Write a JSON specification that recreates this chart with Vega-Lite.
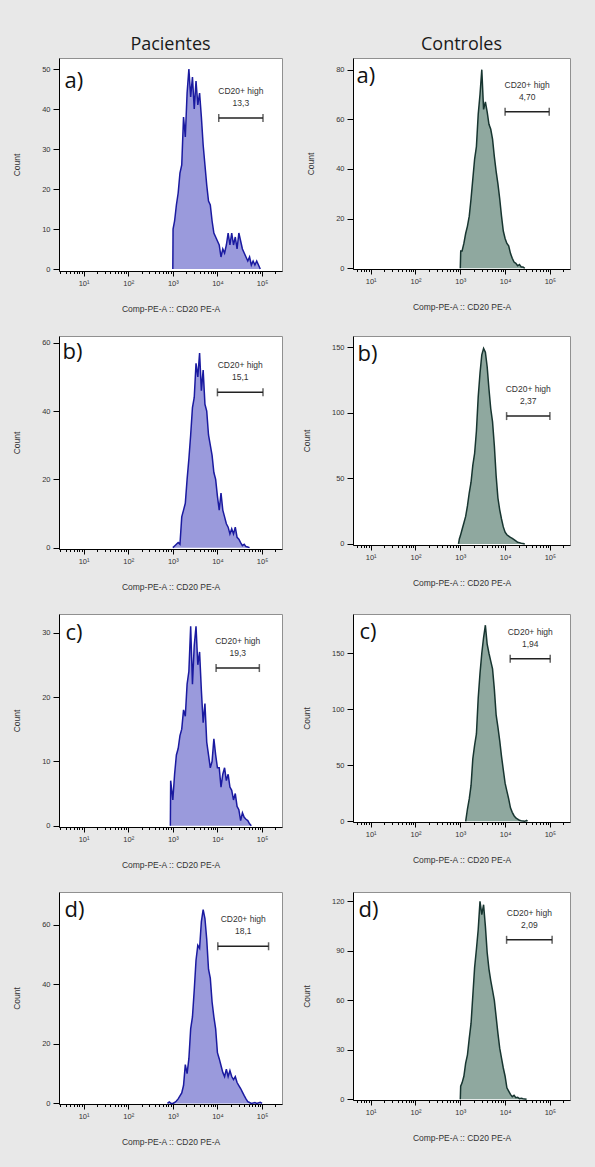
{
"$schema":"https://vega.github.io/schema/vega-lite/v6.json",
"background":"#e8e8e8",
"padding":{"left":12,"top":35,"right":26,"bottom":25},
"columns":2,
"spacing":{"row":65,"column":71},
"bounds":"flush",
"config":{
 "view":{"stroke":"#909090","strokeWidth":1,"fill":"white"},
 "axis":{"labelFont":"Liberation Sans","labelFontSize":7.5,"labelColor":"#333","titleFont":"Liberation Sans","titleFontSize":8.5,"titleFontWeight":"normal","titleColor":"#333","domainColor":"black","tickColor":"black","grid":false,"domainWidth":1,"tickWidth":1,"labelOverlap":false,"labelFlush":false},
 "axisX":{"labelPadding":3,"titlePadding":18},
 "axisY":{"labelPadding":3,"titlePadding":20},
 "text":{"font":"Liberation Sans","fontSize":8.5,"color":"#333"}
},
"datasets":{
"LA":[{"x":1000,"n":0},{"x":1012,"n":10},{"x":1096,"n":12},{"x":1202,"n":16},{"x":1318,"n":19},{"x":1445,"n":24},{"x":1585,"n":26},{"x":1738,"n":38},{"x":1905,"n":33},{"x":2089,"n":44},{"x":2291,"n":50},{"x":2512,"n":43},{"x":2754,"n":48},{"x":3020,"n":40},{"x":3311,"n":47},{"x":3631,"n":41},{"x":3981,"n":44},{"x":4365,"n":38},{"x":4786,"n":31},{"x":5248,"n":26},{"x":5754,"n":21},{"x":6310,"n":17},{"x":6918,"n":16},{"x":7586,"n":12},{"x":8318,"n":9},{"x":9120,"n":8},{"x":10000,"n":7},{"x":10965,"n":6},{"x":12023,"n":3},{"x":13183,"n":5},{"x":14454,"n":4},{"x":15849,"n":6},{"x":17378,"n":9},{"x":19055,"n":6},{"x":20893,"n":9},{"x":22909,"n":6},{"x":25119,"n":8},{"x":27542,"n":5},{"x":30200,"n":9},{"x":33113,"n":7},{"x":36308,"n":5},{"x":39811,"n":4},{"x":43652,"n":3},{"x":47863,"n":2},{"x":52481,"n":3},{"x":57544,"n":1},{"x":63096,"n":2},{"x":69183,"n":1},{"x":75858,"n":2},{"x":83176,"n":1},{"x":91201,"n":0}],
"RA":[{"x":1000,"n":0},{"x":1023,"n":7},{"x":1096,"n":7},{"x":1202,"n":10},{"x":1318,"n":14},{"x":1445,"n":17},{"x":1585,"n":21},{"x":1738,"n":28},{"x":1905,"n":36},{"x":2089,"n":44},{"x":2291,"n":49},{"x":2512,"n":62},{"x":2754,"n":70},{"x":3020,"n":80},{"x":3311,"n":64},{"x":3631,"n":67},{"x":3981,"n":63},{"x":4365,"n":58},{"x":4786,"n":56},{"x":5248,"n":52},{"x":5754,"n":45},{"x":6310,"n":39},{"x":6918,"n":34},{"x":7586,"n":28},{"x":8318,"n":21},{"x":9120,"n":15},{"x":10000,"n":12},{"x":10965,"n":10},{"x":12023,"n":9},{"x":13183,"n":6},{"x":14454,"n":4},{"x":15849,"n":2.5},{"x":17378,"n":2},{"x":19055,"n":1},{"x":20893,"n":1.5},{"x":22909,"n":0.5},{"x":25119,"n":0.5},{"x":27542,"n":0}],
"LB":[{"x":1000,"n":0},{"x":1096,"n":0.5},{"x":1202,"n":1},{"x":1318,"n":1.5},{"x":1445,"n":1},{"x":1585,"n":9},{"x":1738,"n":11},{"x":1905,"n":13},{"x":2089,"n":20},{"x":2291,"n":26},{"x":2512,"n":33},{"x":2754,"n":41},{"x":3020,"n":44},{"x":3311,"n":54},{"x":3631,"n":50},{"x":3981,"n":57},{"x":4365,"n":46},{"x":4786,"n":52},{"x":5248,"n":42},{"x":5754,"n":40},{"x":6310,"n":33},{"x":6918,"n":30},{"x":7586,"n":27},{"x":8318,"n":22},{"x":9120,"n":20},{"x":10000,"n":15},{"x":10965,"n":11},{"x":12023,"n":16},{"x":13183,"n":11},{"x":14454,"n":9},{"x":15849,"n":7},{"x":17378,"n":6},{"x":19055,"n":4},{"x":20893,"n":5.5},{"x":22909,"n":4},{"x":25119,"n":6},{"x":27542,"n":3},{"x":30200,"n":2.5},{"x":33113,"n":1.5},{"x":36308,"n":0.6},{"x":39811,"n":1},{"x":43652,"n":0.3},{"x":47863,"n":0.2},{"x":52481,"n":0}],
"RB":[{"x":912,"n":0},{"x":955,"n":4},{"x":1000,"n":6},{"x":1096,"n":11},{"x":1202,"n":16},{"x":1318,"n":21},{"x":1445,"n":29},{"x":1585,"n":39},{"x":1738,"n":47},{"x":1905,"n":60},{"x":2089,"n":69},{"x":2291,"n":86},{"x":2512,"n":112},{"x":2754,"n":130},{"x":3020,"n":144},{"x":3311,"n":149},{"x":3631,"n":146},{"x":3981,"n":135},{"x":4365,"n":118},{"x":4786,"n":103},{"x":5248,"n":93},{"x":5754,"n":75},{"x":6310,"n":52},{"x":6918,"n":35},{"x":7586,"n":26},{"x":8318,"n":19},{"x":9120,"n":13},{"x":10000,"n":9},{"x":10965,"n":7},{"x":12023,"n":6},{"x":13183,"n":5},{"x":14454,"n":4.3},{"x":15849,"n":3.3},{"x":17378,"n":2.3},{"x":19055,"n":1.3},{"x":20893,"n":1},{"x":22909,"n":0.5},{"x":25119,"n":0.3},{"x":27542,"n":0}],
"LC":[{"x":880,"n":0},{"x":895,"n":7},{"x":1000,"n":4},{"x":1096,"n":8},{"x":1202,"n":11},{"x":1318,"n":12},{"x":1445,"n":14},{"x":1585,"n":15},{"x":1738,"n":18},{"x":1905,"n":17},{"x":2089,"n":22},{"x":2291,"n":24},{"x":2512,"n":31},{"x":2754,"n":22},{"x":3020,"n":28},{"x":3311,"n":31},{"x":3631,"n":25},{"x":3981,"n":27},{"x":4365,"n":21},{"x":4786,"n":16},{"x":5248,"n":19},{"x":5754,"n":13},{"x":6310,"n":11},{"x":6918,"n":9},{"x":7586,"n":10},{"x":8318,"n":13.5},{"x":9120,"n":11},{"x":10000,"n":9},{"x":10965,"n":9},{"x":12023,"n":6},{"x":13183,"n":8},{"x":14454,"n":9},{"x":15849,"n":7},{"x":17378,"n":8},{"x":19055,"n":6},{"x":20893,"n":5.5},{"x":22909,"n":4},{"x":25119,"n":5},{"x":27542,"n":3},{"x":30200,"n":2.5},{"x":33113,"n":0.8},{"x":36308,"n":2},{"x":39811,"n":1.3},{"x":43652,"n":1},{"x":47863,"n":0.8},{"x":52481,"n":0.3},{"x":57544,"n":0}],
"RC":[{"x":1318,"n":0},{"x":1445,"n":11},{"x":1585,"n":20},{"x":1738,"n":32},{"x":1905,"n":56},{"x":2089,"n":68},{"x":2291,"n":78},{"x":2512,"n":110},{"x":2754,"n":132},{"x":3020,"n":150},{"x":3311,"n":164},{"x":3631,"n":175},{"x":3981,"n":158},{"x":4365,"n":150},{"x":4786,"n":143},{"x":5248,"n":136},{"x":5754,"n":118},{"x":6310,"n":95},{"x":6918,"n":84},{"x":7586,"n":72},{"x":8318,"n":58},{"x":9120,"n":46},{"x":10000,"n":34},{"x":10965,"n":27},{"x":12023,"n":20},{"x":13183,"n":12},{"x":14454,"n":8},{"x":15849,"n":5},{"x":17378,"n":3},{"x":19055,"n":2},{"x":20893,"n":1},{"x":22909,"n":0.5},{"x":25119,"n":0.3},{"x":27542,"n":0},{"x":30200,"n":0.8},{"x":31623,"n":0}],
"LD":[{"x":759,"n":0},{"x":832,"n":0.5},{"x":912,"n":0},{"x":1000,"n":0},{"x":1096,"n":0.3},{"x":1202,"n":0.8},{"x":1318,"n":1.5},{"x":1445,"n":2.5},{"x":1585,"n":3.5},{"x":1738,"n":6},{"x":1905,"n":13},{"x":2089,"n":10},{"x":2291,"n":15},{"x":2512,"n":25},{"x":2754,"n":29},{"x":3020,"n":38},{"x":3311,"n":48},{"x":3631,"n":53},{"x":3981,"n":52},{"x":4365,"n":61},{"x":4786,"n":65},{"x":5248,"n":62},{"x":5754,"n":55},{"x":6310,"n":45},{"x":6918,"n":42},{"x":7586,"n":34},{"x":8318,"n":29},{"x":9120,"n":25},{"x":10000,"n":17},{"x":10965,"n":15},{"x":12023,"n":12.7},{"x":13183,"n":10.4},{"x":14454,"n":9},{"x":15849,"n":11.5},{"x":17378,"n":9},{"x":19055,"n":11},{"x":20893,"n":9},{"x":22909,"n":8},{"x":25119,"n":9},{"x":27542,"n":7},{"x":30200,"n":6},{"x":33113,"n":5},{"x":36308,"n":3.8},{"x":39811,"n":2.6},{"x":43652,"n":1.5},{"x":47863,"n":0.6},{"x":52481,"n":0.3},{"x":57544,"n":0},{"x":69183,"n":0.3},{"x":75858,"n":0},{"x":91201,"n":0.4},{"x":100000,"n":0}],
"RD":[{"x":1000,"n":0},{"x":1020,"n":8},{"x":1096,"n":10},{"x":1202,"n":14},{"x":1318,"n":22},{"x":1445,"n":27},{"x":1585,"n":37},{"x":1738,"n":46},{"x":1905,"n":63},{"x":2089,"n":80},{"x":2291,"n":91},{"x":2512,"n":103},{"x":2754,"n":120},{"x":3020,"n":112},{"x":3311,"n":118},{"x":3631,"n":105},{"x":3981,"n":89},{"x":4365,"n":79},{"x":4786,"n":72},{"x":5248,"n":66},{"x":5754,"n":60},{"x":6310,"n":50},{"x":6918,"n":40},{"x":7586,"n":31},{"x":8318,"n":25},{"x":9120,"n":19},{"x":10000,"n":14},{"x":10965,"n":7},{"x":12023,"n":5},{"x":13183,"n":3},{"x":14454,"n":1.6},{"x":15849,"n":2.4},{"x":17378,"n":1},{"x":19055,"n":1.2},{"x":20893,"n":0.4},{"x":22909,"n":0.6},{"x":25119,"n":0.3},{"x":27542,"n":0.2},{"x":30200,"n":0}]
},
"concat":[
{"width":223,"height":213,
 "title":{"text":"Pacientes","font":"Open Sans","fontSize":18,"fontWeight":"normal","color":"#1a1a1a","anchor":"middle","baseline":"alphabetic","offset":-10},
 "layer":[
  {"data":{"name":"LA"},"mark":{"type":"area","color":"#9a9adc","opacity":1,"line":{"color":"#1a1aa0","strokeWidth":1.5}},
   "encoding":{"x":{"field":"x","type":"quantitative","scale":{"type":"log","domain":[2.81,280000],"nice":false},"axis":{"title":"Comp-PE-A :: CD20 PE-A","labelOverlap":false,"values":[3,4,5,6,7,8,9,10,20,30,40,50,60,70,80,90,100,200,300,400,500,600,700,800,900,1000,2000,3000,4000,5000,6000,7000,8000,9000,10000,20000,30000,40000,50000,60000,70000,80000,90000,100000,200000],"labelExpr":"datum.value == 10 ? '10¹' : datum.value == 100 ? '10²' : datum.value == 1000 ? '10³' : datum.value == 10000 ? '10⁴' : datum.value == 100000 ? '10⁵' : ''","tickSize":{"condition":{"test":"indexof([10,100,1000,10000,100000], datum.value) >= 0","value":5},"value":2.5}}},
    "y":{"field":"n","type":"quantitative","scale":{"domain":[-0.5,52.75],"nice":false,"zero":false},"axis":{"title":"Count","labelOverlap":false,"values":[0,2.5,5,7.5,10,12.5,15,17.5,20,22.5,25,27.5,30,32.5,35,37.5,40,42.5,45,47.5,50,52.5],"labelExpr":"datum.value % 10 == 0 ? datum.label : ''","tickSize":{"condition":{"test":"datum.value % 10 == 0","value":6},"value":3}}}}},
  {"data":{"values":[{"lo":10700,"hi":105000,"n":37.75,"pct":"13,3"}]},
   "layer":[
    {"mark":{"type":"rule","color":"#222","strokeWidth":1.5},"encoding":{"x":{"field":"lo","type":"quantitative","scale":{"type":"log","domain":[2.81,280000],"nice":false},"axis":{"orient":"top","title":"a)","labels":false,"ticks":false,"domain":false,"titleFont":"Open Sans","titleFontSize":22,"titleFontWeight":"normal","titleColor":"#111","titleAnchor":"start","titleAlign":"left","titleBaseline":"alphabetic","titleAngle":0,"titleX":5,"titleY":29}},"x2":{"field":"hi"},"y":{"field":"n","type":"quantitative","scale":{"domain":[-0.5,52.75],"nice":false,"zero":false}}}},
    {"mark":{"type":"tick","orient":"vertical","color":"#222","size":8,"thickness":1.5},"encoding":{"x":{"field":"lo","type":"quantitative","scale":{"type":"log","domain":[2.81,280000],"nice":false}},"y":{"field":"n","type":"quantitative","scale":{"domain":[-0.5,52.75],"nice":false,"zero":false}}}},
    {"mark":{"type":"tick","orient":"vertical","color":"#222","size":8,"thickness":1.5},"encoding":{"x":{"field":"hi","type":"quantitative","scale":{"type":"log","domain":[2.81,280000],"nice":false}},"y":{"field":"n","type":"quantitative","scale":{"domain":[-0.5,52.75],"nice":false,"zero":false}}}},
    {"transform":[{"calculate":"sqrt(datum.lo*datum.hi)","as":"mid"}],"mark":{"type":"text","dy":-27},"encoding":{"x":{"field":"mid","type":"quantitative","scale":{"type":"log","domain":[2.81,280000],"nice":false}},"y":{"field":"n","type":"quantitative","scale":{"domain":[-0.5,52.75],"nice":false,"zero":false}},"text":{"value":"CD20+ high"}}},
    {"transform":[{"calculate":"sqrt(datum.lo*datum.hi)","as":"mid"}],"mark":{"type":"text","dy":-15},"encoding":{"x":{"field":"mid","type":"quantitative","scale":{"type":"log","domain":[2.81,280000],"nice":false}},"y":{"field":"n","type":"quantitative","scale":{"domain":[-0.5,52.75],"nice":false,"zero":false}},"text":{"field":"pct"}}}
   ]}
 ],
 "resolve":{"axis":{"x":"independent"}}},
{"width":217,"height":211,
 "title":{"text":"Controles","font":"Open Sans","fontSize":18,"fontWeight":"normal","color":"#1a1a1a","anchor":"middle","baseline":"alphabetic","offset":-10},
 "layer":[
  {"data":{"name":"RA"},"mark":{"type":"area","color":"#8fa89f","opacity":1,"line":{"color":"#173530","strokeWidth":1.5}},
   "encoding":{"x":{"field":"x","type":"quantitative","scale":{"type":"log","domain":[4.03,281000],"nice":false},"axis":{"title":"Comp-PE-A :: CD20 PE-A","labelOverlap":false,"values":[5,6,7,8,9,10,20,30,40,50,60,70,80,90,100,200,300,400,500,600,700,800,900,1000,2000,3000,4000,5000,6000,7000,8000,9000,10000,20000,30000,40000,50000,60000,70000,80000,90000,100000,200000],"labelExpr":"datum.value == 10 ? '10¹' : datum.value == 100 ? '10²' : datum.value == 1000 ? '10³' : datum.value == 10000 ? '10⁴' : datum.value == 100000 ? '10⁵' : ''","tickSize":{"condition":{"test":"indexof([10,100,1000,10000,100000], datum.value) >= 0","value":5},"value":2.5}}},
    "y":{"field":"n","type":"quantitative","scale":{"domain":[-0.3,84.7],"nice":false,"zero":false},"axis":{"title":"Count","labelOverlap":false,"values":[0,5,10,15,20,25,30,35,40,45,50,55,60,65,70,75,80],"labelExpr":"datum.value % 20 == 0 ? datum.label : ''","tickSize":{"condition":{"test":"datum.value % 20 == 0","value":6},"value":3}}}}},
  {"data":{"values":[{"lo":10000,"hi":96600,"n":63,"pct":"4,70"}]},
   "layer":[
    {"mark":{"type":"rule","color":"#222","strokeWidth":1.5},"encoding":{"x":{"field":"lo","type":"quantitative","scale":{"type":"log","domain":[4.03,281000],"nice":false},"axis":{"orient":"top","title":"a)","labels":false,"ticks":false,"domain":false,"titleFont":"Open Sans","titleFontSize":22,"titleFontWeight":"normal","titleColor":"#111","titleAnchor":"start","titleAlign":"left","titleBaseline":"alphabetic","titleAngle":0,"titleX":3,"titleY":24}},"x2":{"field":"hi"},"y":{"field":"n","type":"quantitative","scale":{"domain":[-0.3,84.7],"nice":false,"zero":false}}}},
    {"mark":{"type":"tick","orient":"vertical","color":"#222","size":8,"thickness":1.5},"encoding":{"x":{"field":"lo","type":"quantitative","scale":{"type":"log","domain":[4.03,281000],"nice":false}},"y":{"field":"n","type":"quantitative","scale":{"domain":[-0.3,84.7],"nice":false,"zero":false}}}},
    {"mark":{"type":"tick","orient":"vertical","color":"#222","size":8,"thickness":1.5},"encoding":{"x":{"field":"hi","type":"quantitative","scale":{"type":"log","domain":[4.03,281000],"nice":false}},"y":{"field":"n","type":"quantitative","scale":{"domain":[-0.3,84.7],"nice":false,"zero":false}}}},
    {"transform":[{"calculate":"sqrt(datum.lo*datum.hi)","as":"mid"}],"mark":{"type":"text","dy":-27},"encoding":{"x":{"field":"mid","type":"quantitative","scale":{"type":"log","domain":[4.03,281000],"nice":false}},"y":{"field":"n","type":"quantitative","scale":{"domain":[-0.3,84.7],"nice":false,"zero":false}},"text":{"value":"CD20+ high"}}},
    {"transform":[{"calculate":"sqrt(datum.lo*datum.hi)","as":"mid"}],"mark":{"type":"text","dy":-15},"encoding":{"x":{"field":"mid","type":"quantitative","scale":{"type":"log","domain":[4.03,281000],"nice":false}},"y":{"field":"n","type":"quantitative","scale":{"domain":[-0.3,84.7],"nice":false,"zero":false}},"text":{"field":"pct"}}}
   ]}
 ],
 "resolve":{"axis":{"x":"independent"}}},
{"width":223,"height":213,
 "layer":[
  {"data":{"name":"LB"},"mark":{"type":"area","color":"#9a9adc","opacity":1,"line":{"color":"#1a1aa0","strokeWidth":1.5}},
   "encoding":{"x":{"field":"x","type":"quantitative","scale":{"type":"log","domain":[2.81,280000],"nice":false},"axis":{"title":"Comp-PE-A :: CD20 PE-A","labelOverlap":false,"values":[3,4,5,6,7,8,9,10,20,30,40,50,60,70,80,90,100,200,300,400,500,600,700,800,900,1000,2000,3000,4000,5000,6000,7000,8000,9000,10000,20000,30000,40000,50000,60000,70000,80000,90000,100000,200000],"labelExpr":"datum.value == 10 ? '10¹' : datum.value == 100 ? '10²' : datum.value == 1000 ? '10³' : datum.value == 10000 ? '10⁴' : datum.value == 100000 ? '10⁵' : ''","tickSize":{"condition":{"test":"indexof([10,100,1000,10000,100000], datum.value) >= 0","value":5},"value":2.5}}},
    "y":{"field":"n","type":"quantitative","scale":{"domain":[-0.4,62],"nice":false,"zero":false},"axis":{"title":"Count","labelOverlap":false,"values":[0,5,10,15,20,25,30,35,40,45,50,55,60],"labelExpr":"datum.value % 20 == 0 ? datum.label : ''","tickSize":{"condition":{"test":"datum.value % 20 == 0","value":6},"value":3}}}}},
  {"data":{"values":[{"lo":10000,"hi":105000,"n":45.5,"pct":"15,1"}]},
   "layer":[
    {"mark":{"type":"rule","color":"#222","strokeWidth":1.5},"encoding":{"x":{"field":"lo","type":"quantitative","scale":{"type":"log","domain":[2.81,280000],"nice":false},"axis":{"orient":"top","title":"b)","labels":false,"ticks":false,"domain":false,"titleFont":"Open Sans","titleFontSize":22,"titleFontWeight":"normal","titleColor":"#111","titleAnchor":"start","titleAlign":"left","titleBaseline":"alphabetic","titleAngle":0,"titleX":3,"titleY":22}},"x2":{"field":"hi"},"y":{"field":"n","type":"quantitative","scale":{"domain":[-0.4,62],"nice":false,"zero":false}}}},
    {"mark":{"type":"tick","orient":"vertical","color":"#222","size":8,"thickness":1.5},"encoding":{"x":{"field":"lo","type":"quantitative","scale":{"type":"log","domain":[2.81,280000],"nice":false}},"y":{"field":"n","type":"quantitative","scale":{"domain":[-0.4,62],"nice":false,"zero":false}}}},
    {"mark":{"type":"tick","orient":"vertical","color":"#222","size":8,"thickness":1.5},"encoding":{"x":{"field":"hi","type":"quantitative","scale":{"type":"log","domain":[2.81,280000],"nice":false}},"y":{"field":"n","type":"quantitative","scale":{"domain":[-0.4,62],"nice":false,"zero":false}}}},
    {"transform":[{"calculate":"sqrt(datum.lo*datum.hi)","as":"mid"}],"mark":{"type":"text","dy":-27},"encoding":{"x":{"field":"mid","type":"quantitative","scale":{"type":"log","domain":[2.81,280000],"nice":false}},"y":{"field":"n","type":"quantitative","scale":{"domain":[-0.4,62],"nice":false,"zero":false}},"text":{"value":"CD20+ high"}}},
    {"transform":[{"calculate":"sqrt(datum.lo*datum.hi)","as":"mid"}],"mark":{"type":"text","dy":-15},"encoding":{"x":{"field":"mid","type":"quantitative","scale":{"type":"log","domain":[2.81,280000],"nice":false}},"y":{"field":"n","type":"quantitative","scale":{"domain":[-0.4,62],"nice":false,"zero":false}},"text":{"field":"pct"}}}
   ]}
 ],
 "resolve":{"axis":{"x":"independent"}}},
{"width":217,"height":209,
 "layer":[
  {"data":{"name":"RB"},"mark":{"type":"area","color":"#8fa89f","opacity":1,"line":{"color":"#173530","strokeWidth":1.5}},
   "encoding":{"x":{"field":"x","type":"quantitative","scale":{"type":"log","domain":[4.03,281000],"nice":false},"axis":{"title":"Comp-PE-A :: CD20 PE-A","labelOverlap":false,"values":[5,6,7,8,9,10,20,30,40,50,60,70,80,90,100,200,300,400,500,600,700,800,900,1000,2000,3000,4000,5000,6000,7000,8000,9000,10000,20000,30000,40000,50000,60000,70000,80000,90000,100000,200000],"labelExpr":"datum.value == 10 ? '10¹' : datum.value == 100 ? '10²' : datum.value == 1000 ? '10³' : datum.value == 10000 ? '10⁴' : datum.value == 100000 ? '10⁵' : ''","tickSize":{"condition":{"test":"indexof([10,100,1000,10000,100000], datum.value) >= 0","value":5},"value":2.5}}},
    "y":{"field":"n","type":"quantitative","scale":{"domain":[-0.8,158.4],"nice":false,"zero":false},"axis":{"title":"Count","labelOverlap":false,"values":[0,12.5,25,37.5,50,62.5,75,87.5,100,112.5,125,137.5,150],"labelExpr":"datum.value % 50 == 0 ? datum.label : ''","tickSize":{"condition":{"test":"datum.value % 50 == 0","value":6},"value":3}}}}},
  {"data":{"values":[{"lo":10800,"hi":100000,"n":97.4,"pct":"2,37"}]},
   "layer":[
    {"mark":{"type":"rule","color":"#222","strokeWidth":1.5},"encoding":{"x":{"field":"lo","type":"quantitative","scale":{"type":"log","domain":[4.03,281000],"nice":false},"axis":{"orient":"top","title":"b)","labels":false,"ticks":false,"domain":false,"titleFont":"Open Sans","titleFontSize":22,"titleFontWeight":"normal","titleColor":"#111","titleAnchor":"start","titleAlign":"left","titleBaseline":"alphabetic","titleAngle":0,"titleX":4,"titleY":24}},"x2":{"field":"hi"},"y":{"field":"n","type":"quantitative","scale":{"domain":[-0.8,158.4],"nice":false,"zero":false}}}},
    {"mark":{"type":"tick","orient":"vertical","color":"#222","size":8,"thickness":1.5},"encoding":{"x":{"field":"lo","type":"quantitative","scale":{"type":"log","domain":[4.03,281000],"nice":false}},"y":{"field":"n","type":"quantitative","scale":{"domain":[-0.8,158.4],"nice":false,"zero":false}}}},
    {"mark":{"type":"tick","orient":"vertical","color":"#222","size":8,"thickness":1.5},"encoding":{"x":{"field":"hi","type":"quantitative","scale":{"type":"log","domain":[4.03,281000],"nice":false}},"y":{"field":"n","type":"quantitative","scale":{"domain":[-0.8,158.4],"nice":false,"zero":false}}}},
    {"transform":[{"calculate":"sqrt(datum.lo*datum.hi)","as":"mid"}],"mark":{"type":"text","dy":-27},"encoding":{"x":{"field":"mid","type":"quantitative","scale":{"type":"log","domain":[4.03,281000],"nice":false}},"y":{"field":"n","type":"quantitative","scale":{"domain":[-0.8,158.4],"nice":false,"zero":false}},"text":{"value":"CD20+ high"}}},
    {"transform":[{"calculate":"sqrt(datum.lo*datum.hi)","as":"mid"}],"mark":{"type":"text","dy":-15},"encoding":{"x":{"field":"mid","type":"quantitative","scale":{"type":"log","domain":[4.03,281000],"nice":false}},"y":{"field":"n","type":"quantitative","scale":{"domain":[-0.8,158.4],"nice":false,"zero":false}},"text":{"field":"pct"}}}
   ]}
 ],
 "resolve":{"axis":{"x":"independent"}}},
{"width":223,"height":213,
 "layer":[
  {"data":{"name":"LC"},"mark":{"type":"area","color":"#9a9adc","opacity":1,"line":{"color":"#1a1aa0","strokeWidth":1.5}},
   "encoding":{"x":{"field":"x","type":"quantitative","scale":{"type":"log","domain":[2.81,280000],"nice":false},"axis":{"title":"Comp-PE-A :: CD20 PE-A","labelOverlap":false,"values":[3,4,5,6,7,8,9,10,20,30,40,50,60,70,80,90,100,200,300,400,500,600,700,800,900,1000,2000,3000,4000,5000,6000,7000,8000,9000,10000,20000,30000,40000,50000,60000,70000,80000,90000,100000,200000],"labelExpr":"datum.value == 10 ? '10¹' : datum.value == 100 ? '10²' : datum.value == 1000 ? '10³' : datum.value == 10000 ? '10⁴' : datum.value == 100000 ? '10⁵' : ''","tickSize":{"condition":{"test":"indexof([10,100,1000,10000,100000], datum.value) >= 0","value":5},"value":2.5}}},
    "y":{"field":"n","type":"quantitative","scale":{"domain":[-0.2,32.9],"nice":false,"zero":false},"axis":{"title":"Count","labelOverlap":false,"values":[0,2.5,5,7.5,10,12.5,15,17.5,20,22.5,25,27.5,30,32.5],"labelExpr":"datum.value % 10 == 0 ? datum.label : ''","tickSize":{"condition":{"test":"datum.value % 10 == 0","value":6},"value":3}}}}},
  {"data":{"values":[{"lo":9330,"hi":87000,"n":24.5,"pct":"19,3"}]},
   "layer":[
    {"mark":{"type":"rule","color":"#222","strokeWidth":1.5},"encoding":{"x":{"field":"lo","type":"quantitative","scale":{"type":"log","domain":[2.81,280000],"nice":false},"axis":{"orient":"top","title":"c)","labels":false,"ticks":false,"domain":false,"titleFont":"Open Sans","titleFontSize":22,"titleFontWeight":"normal","titleColor":"#111","titleAnchor":"start","titleAlign":"left","titleBaseline":"alphabetic","titleAngle":0,"titleX":6,"titleY":25}},"x2":{"field":"hi"},"y":{"field":"n","type":"quantitative","scale":{"domain":[-0.2,32.9],"nice":false,"zero":false}}}},
    {"mark":{"type":"tick","orient":"vertical","color":"#222","size":8,"thickness":1.5},"encoding":{"x":{"field":"lo","type":"quantitative","scale":{"type":"log","domain":[2.81,280000],"nice":false}},"y":{"field":"n","type":"quantitative","scale":{"domain":[-0.2,32.9],"nice":false,"zero":false}}}},
    {"mark":{"type":"tick","orient":"vertical","color":"#222","size":8,"thickness":1.5},"encoding":{"x":{"field":"hi","type":"quantitative","scale":{"type":"log","domain":[2.81,280000],"nice":false}},"y":{"field":"n","type":"quantitative","scale":{"domain":[-0.2,32.9],"nice":false,"zero":false}}}},
    {"transform":[{"calculate":"sqrt(datum.lo*datum.hi)","as":"mid"}],"mark":{"type":"text","dy":-27},"encoding":{"x":{"field":"mid","type":"quantitative","scale":{"type":"log","domain":[2.81,280000],"nice":false}},"y":{"field":"n","type":"quantitative","scale":{"domain":[-0.2,32.9],"nice":false,"zero":false}},"text":{"value":"CD20+ high"}}},
    {"transform":[{"calculate":"sqrt(datum.lo*datum.hi)","as":"mid"}],"mark":{"type":"text","dy":-15},"encoding":{"x":{"field":"mid","type":"quantitative","scale":{"type":"log","domain":[2.81,280000],"nice":false}},"y":{"field":"n","type":"quantitative","scale":{"domain":[-0.2,32.9],"nice":false,"zero":false}},"text":{"field":"pct"}}}
   ]}
 ],
 "resolve":{"axis":{"x":"independent"}}},
{"width":217,"height":208,
 "layer":[
  {"data":{"name":"RC"},"mark":{"type":"area","color":"#8fa89f","opacity":1,"line":{"color":"#173530","strokeWidth":1.5}},
   "encoding":{"x":{"field":"x","type":"quantitative","scale":{"type":"log","domain":[4.03,281000],"nice":false},"axis":{"title":"Comp-PE-A :: CD20 PE-A","labelOverlap":false,"values":[5,6,7,8,9,10,20,30,40,50,60,70,80,90,100,200,300,400,500,600,700,800,900,1000,2000,3000,4000,5000,6000,7000,8000,9000,10000,20000,30000,40000,50000,60000,70000,80000,90000,100000,200000],"labelExpr":"datum.value == 10 ? '10¹' : datum.value == 100 ? '10²' : datum.value == 1000 ? '10³' : datum.value == 10000 ? '10⁴' : datum.value == 100000 ? '10⁵' : ''","tickSize":{"condition":{"test":"indexof([10,100,1000,10000,100000], datum.value) >= 0","value":5},"value":2.5}}},
    "y":{"field":"n","type":"quantitative","scale":{"domain":[-0.6,185],"nice":false,"zero":false},"axis":{"title":"Count","labelOverlap":false,"values":[0,12.5,25,37.5,50,62.5,75,87.5,100,112.5,125,137.5,150,162.5,175],"labelExpr":"datum.value % 50 == 0 ? datum.label : ''","tickSize":{"condition":{"test":"datum.value % 50 == 0","value":6},"value":3}}}}},
  {"data":{"values":[{"lo":13000,"hi":101600,"n":145,"pct":"1,94"}]},
   "layer":[
    {"mark":{"type":"rule","color":"#222","strokeWidth":1.5},"encoding":{"x":{"field":"lo","type":"quantitative","scale":{"type":"log","domain":[4.03,281000],"nice":false},"axis":{"orient":"top","title":"c)","labels":false,"ticks":false,"domain":false,"titleFont":"Open Sans","titleFontSize":22,"titleFontWeight":"normal","titleColor":"#111","titleAnchor":"start","titleAlign":"left","titleBaseline":"alphabetic","titleAngle":0,"titleX":6,"titleY":24}},"x2":{"field":"hi"},"y":{"field":"n","type":"quantitative","scale":{"domain":[-0.6,185],"nice":false,"zero":false}}}},
    {"mark":{"type":"tick","orient":"vertical","color":"#222","size":8,"thickness":1.5},"encoding":{"x":{"field":"lo","type":"quantitative","scale":{"type":"log","domain":[4.03,281000],"nice":false}},"y":{"field":"n","type":"quantitative","scale":{"domain":[-0.6,185],"nice":false,"zero":false}}}},
    {"mark":{"type":"tick","orient":"vertical","color":"#222","size":8,"thickness":1.5},"encoding":{"x":{"field":"hi","type":"quantitative","scale":{"type":"log","domain":[4.03,281000],"nice":false}},"y":{"field":"n","type":"quantitative","scale":{"domain":[-0.6,185],"nice":false,"zero":false}}}},
    {"transform":[{"calculate":"sqrt(datum.lo*datum.hi)","as":"mid"}],"mark":{"type":"text","dy":-27},"encoding":{"x":{"field":"mid","type":"quantitative","scale":{"type":"log","domain":[4.03,281000],"nice":false}},"y":{"field":"n","type":"quantitative","scale":{"domain":[-0.6,185],"nice":false,"zero":false}},"text":{"value":"CD20+ high"}}},
    {"transform":[{"calculate":"sqrt(datum.lo*datum.hi)","as":"mid"}],"mark":{"type":"text","dy":-15},"encoding":{"x":{"field":"mid","type":"quantitative","scale":{"type":"log","domain":[4.03,281000],"nice":false}},"y":{"field":"n","type":"quantitative","scale":{"domain":[-0.6,185],"nice":false,"zero":false}},"text":{"field":"pct"}}}
   ]}
 ],
 "resolve":{"axis":{"x":"independent"}}},
{"width":223,"height":212,
 "layer":[
  {"data":{"name":"LD"},"mark":{"type":"area","color":"#9a9adc","opacity":1,"line":{"color":"#1a1aa0","strokeWidth":1.5}},
   "encoding":{"x":{"field":"x","type":"quantitative","scale":{"type":"log","domain":[2.81,280000],"nice":false},"axis":{"title":"Comp-PE-A :: CD20 PE-A","labelOverlap":false,"values":[3,4,5,6,7,8,9,10,20,30,40,50,60,70,80,90,100,200,300,400,500,600,700,800,900,1000,2000,3000,4000,5000,6000,7000,8000,9000,10000,20000,30000,40000,50000,60000,70000,80000,90000,100000,200000],"labelExpr":"datum.value == 10 ? '10¹' : datum.value == 100 ? '10²' : datum.value == 1000 ? '10³' : datum.value == 10000 ? '10⁴' : datum.value == 100000 ? '10⁵' : ''","tickSize":{"condition":{"test":"indexof([10,100,1000,10000,100000], datum.value) >= 0","value":5},"value":2.5}}},
    "y":{"field":"n","type":"quantitative","scale":{"domain":[-0.2,70.9],"nice":false,"zero":false},"axis":{"title":"Count","labelOverlap":false,"values":[0,5,10,15,20,25,30,35,40,45,50,55,60,65,70],"labelExpr":"datum.value % 20 == 0 ? datum.label : ''","tickSize":{"condition":{"test":"datum.value % 20 == 0","value":6},"value":3}}}}},
  {"data":{"values":[{"lo":10200,"hi":140000,"n":52.7,"pct":"18,1"}]},
   "layer":[
    {"mark":{"type":"rule","color":"#222","strokeWidth":1.5},"encoding":{"x":{"field":"lo","type":"quantitative","scale":{"type":"log","domain":[2.81,280000],"nice":false},"axis":{"orient":"top","title":"d)","labels":false,"ticks":false,"domain":false,"titleFont":"Open Sans","titleFontSize":22,"titleFontWeight":"normal","titleColor":"#111","titleAnchor":"start","titleAlign":"left","titleBaseline":"alphabetic","titleAngle":0,"titleX":5,"titleY":24}},"x2":{"field":"hi"},"y":{"field":"n","type":"quantitative","scale":{"domain":[-0.2,70.9],"nice":false,"zero":false}}}},
    {"mark":{"type":"tick","orient":"vertical","color":"#222","size":8,"thickness":1.5},"encoding":{"x":{"field":"lo","type":"quantitative","scale":{"type":"log","domain":[2.81,280000],"nice":false}},"y":{"field":"n","type":"quantitative","scale":{"domain":[-0.2,70.9],"nice":false,"zero":false}}}},
    {"mark":{"type":"tick","orient":"vertical","color":"#222","size":8,"thickness":1.5},"encoding":{"x":{"field":"hi","type":"quantitative","scale":{"type":"log","domain":[2.81,280000],"nice":false}},"y":{"field":"n","type":"quantitative","scale":{"domain":[-0.2,70.9],"nice":false,"zero":false}}}},
    {"transform":[{"calculate":"sqrt(datum.lo*datum.hi)","as":"mid"}],"mark":{"type":"text","dy":-27},"encoding":{"x":{"field":"mid","type":"quantitative","scale":{"type":"log","domain":[2.81,280000],"nice":false}},"y":{"field":"n","type":"quantitative","scale":{"domain":[-0.2,70.9],"nice":false,"zero":false}},"text":{"value":"CD20+ high"}}},
    {"transform":[{"calculate":"sqrt(datum.lo*datum.hi)","as":"mid"}],"mark":{"type":"text","dy":-15},"encoding":{"x":{"field":"mid","type":"quantitative","scale":{"type":"log","domain":[2.81,280000],"nice":false}},"y":{"field":"n","type":"quantitative","scale":{"domain":[-0.2,70.9],"nice":false,"zero":false}},"text":{"field":"pct"}}}
   ]}
 ],
 "resolve":{"axis":{"x":"independent"}}},
{"width":217,"height":208,
 "layer":[
  {"data":{"name":"RD"},"mark":{"type":"area","color":"#8fa89f","opacity":1,"line":{"color":"#173530","strokeWidth":1.5}},
   "encoding":{"x":{"field":"x","type":"quantitative","scale":{"type":"log","domain":[4.03,281000],"nice":false},"axis":{"title":"Comp-PE-A :: CD20 PE-A","labelOverlap":false,"values":[5,6,7,8,9,10,20,30,40,50,60,70,80,90,100,200,300,400,500,600,700,800,900,1000,2000,3000,4000,5000,6000,7000,8000,9000,10000,20000,30000,40000,50000,60000,70000,80000,90000,100000,200000],"labelExpr":"datum.value == 10 ? '10¹' : datum.value == 100 ? '10²' : datum.value == 1000 ? '10³' : datum.value == 10000 ? '10⁴' : datum.value == 100000 ? '10⁵' : ''","tickSize":{"condition":{"test":"indexof([10,100,1000,10000,100000], datum.value) >= 0","value":5},"value":2.5}}},
    "y":{"field":"n","type":"quantitative","scale":{"domain":[-0.4,125.7],"nice":false,"zero":false},"axis":{"title":"Count","labelOverlap":false,"values":[0,7.5,15,22.5,30,37.5,45,52.5,60,67.5,75,82.5,90,97.5,105,112.5,120],"labelExpr":"datum.value % 30 == 0 ? datum.label : ''","tickSize":{"condition":{"test":"datum.value % 30 == 0","value":6},"value":3}}}}},
  {"data":{"values":[{"lo":10800,"hi":112000,"n":96.7,"pct":"2,09"}]},
   "layer":[
    {"mark":{"type":"rule","color":"#222","strokeWidth":1.5},"encoding":{"x":{"field":"lo","type":"quantitative","scale":{"type":"log","domain":[4.03,281000],"nice":false},"axis":{"orient":"top","title":"d)","labels":false,"ticks":false,"domain":false,"titleFont":"Open Sans","titleFontSize":22,"titleFontWeight":"normal","titleColor":"#111","titleAnchor":"start","titleAlign":"left","titleBaseline":"alphabetic","titleAngle":0,"titleX":5,"titleY":24}},"x2":{"field":"hi"},"y":{"field":"n","type":"quantitative","scale":{"domain":[-0.4,125.7],"nice":false,"zero":false}}}},
    {"mark":{"type":"tick","orient":"vertical","color":"#222","size":8,"thickness":1.5},"encoding":{"x":{"field":"lo","type":"quantitative","scale":{"type":"log","domain":[4.03,281000],"nice":false}},"y":{"field":"n","type":"quantitative","scale":{"domain":[-0.4,125.7],"nice":false,"zero":false}}}},
    {"mark":{"type":"tick","orient":"vertical","color":"#222","size":8,"thickness":1.5},"encoding":{"x":{"field":"hi","type":"quantitative","scale":{"type":"log","domain":[4.03,281000],"nice":false}},"y":{"field":"n","type":"quantitative","scale":{"domain":[-0.4,125.7],"nice":false,"zero":false}}}},
    {"transform":[{"calculate":"sqrt(datum.lo*datum.hi)","as":"mid"}],"mark":{"type":"text","dy":-27},"encoding":{"x":{"field":"mid","type":"quantitative","scale":{"type":"log","domain":[4.03,281000],"nice":false}},"y":{"field":"n","type":"quantitative","scale":{"domain":[-0.4,125.7],"nice":false,"zero":false}},"text":{"value":"CD20+ high"}}},
    {"transform":[{"calculate":"sqrt(datum.lo*datum.hi)","as":"mid"}],"mark":{"type":"text","dy":-15},"encoding":{"x":{"field":"mid","type":"quantitative","scale":{"type":"log","domain":[4.03,281000],"nice":false}},"y":{"field":"n","type":"quantitative","scale":{"domain":[-0.4,125.7],"nice":false,"zero":false}},"text":{"field":"pct"}}}
   ]}
 ],
 "resolve":{"axis":{"x":"independent"}}}
]
}
